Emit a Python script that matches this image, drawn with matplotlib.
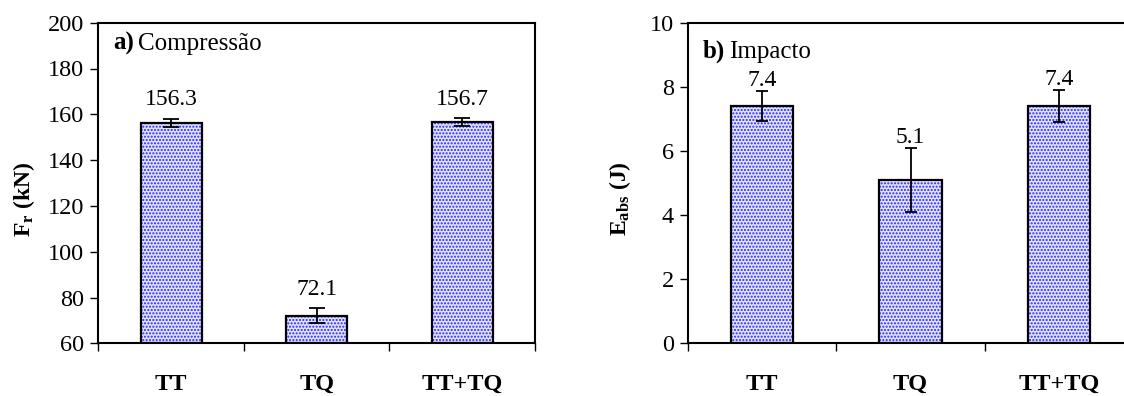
import matplotlib
matplotlib.use("Agg")
import matplotlib.pyplot as plt
import numpy as np

categories = ["TT", "TQ", "TT+TQ"]
comp_values = [156.3, 72.1, 156.7]
comp_errors = [1.8, 3.1, 1.7]
imp_values = [7.4, 5.1, 7.4]
imp_errors = [0.47, 1.0, 0.5]
comp_yticks = [60, 80, 100, 120, 140, 160, 180, 200]
imp_yticks = [0, 2, 4, 6, 8, 10]

plt.rcParams['font.family'] = ['Liberation Serif', 'DejaVu Serif']
plt.rcParams['mathtext.fontset'] = 'custom'
plt.rcParams['mathtext.rm'] = 'Liberation Serif'
plt.rcParams['mathtext.bf'] = 'Liberation Serif:bold'
plt.rcParams['mathtext.it'] = 'Liberation Serif:italic'
plt.rcParams['hatch.linewidth'] = 1.0

W, H = 1124, 396
fig = plt.figure(figsize=(W / 100, H / 100), dpi=100)

def make_axes(left, right, top=22.7, bottom=343.3):
    return fig.add_axes([left / W, (H - bottom) / H, (right - left) / W, (bottom - top) / H])

ax1 = make_axes(98.3, 535.0)
ax2 = make_axes(687.7, 1133.5)

def draw(ax, values, errors, yticks, ylabel, label_x, panel_bold, panel_text, capsize, txt_y, lab_off):
    x = np.arange(len(categories))
    base = yticks[0]
    heights = [v - base for v in values]
    ax.bar(x, heights, bottom=base, width=0.42, facecolor='#e2e2ff',
           edgecolor='#2424ff', hatch='.....', linewidth=0, zorder=2)
    ax.bar(x, heights, bottom=base, width=0.42, fill=False,
           edgecolor='black', linewidth=1.6, zorder=3)
    ax.errorbar(x, values, yerr=errors, fmt='none', ecolor='black',
                elinewidth=1.3, capsize=capsize, capthick=1.3, zorder=4)
    for xi, v, e in zip(x, values, errors):
        ax.annotate(f"{v:.1f}", (xi, v + e), xytext=(0, lab_off), textcoords='offset points',
                    ha='center', va='bottom', fontsize=17)
    ax.set_xlim(-0.5, len(categories) - 0.5)
    ax.set_ylim(yticks[0], yticks[-1])
    ax.set_yticks(yticks)
    ax.set_yticklabels([str(t) for t in yticks])
    ax.set_xticks(np.arange(len(categories) + 1) - 0.5)
    ax.set_xticklabels([])
    ax.set_xticks(x, minor=True)
    ax.set_xticklabels(categories, minor=True, fontsize=17.5, fontweight='bold')
    ax.tick_params(axis='x', which='major', direction='out', length=6, width=1.0)
    ax.tick_params(axis='x', which='minor', length=0, pad=22)
    ax.tick_params(axis='y', direction='out', length=6, width=1.0, pad=4, labelsize=17.5)
    for s in ax.spines.values():
        s.set_linewidth(1.5)
    ax.set_ylabel(ylabel, fontsize=17, fontweight='bold')
    ax.yaxis.set_label_coords(label_x, 0.45)
    ax.text(0.034, txt_y, panel_bold, transform=ax.transAxes, fontsize=18,
            fontweight='bold', va='center', ha='left')
    ax.annotate(panel_text, xy=(1, 0.5), xycoords=ax.texts[-1], xytext=(3, 0),
                textcoords='offset points', fontsize=18, va='center', ha='left')

draw(ax1, comp_values, comp_errors, comp_yticks, r'$\mathbf{F_r}$ (kN)', -0.141,
     'a)', 'Compressão', 5.5, 0.935, 6)
draw(ax2, imp_values, imp_errors, imp_yticks, r'$\mathbf{E_{abs}}$ (J)', -0.123,
     'b)', 'Impacto', 4, 0.91, 0)

fig.savefig("out.png", dpi=100)
